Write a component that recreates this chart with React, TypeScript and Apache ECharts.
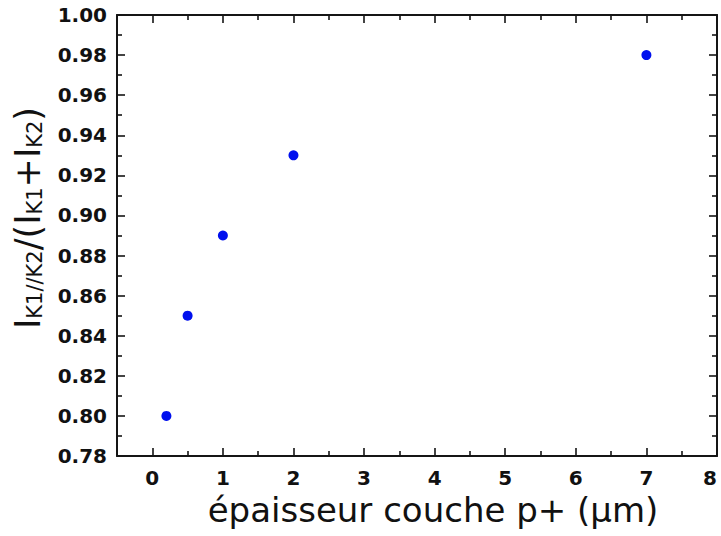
import React, { useEffect, useRef } from "react";
import * as echarts from "echarts";

const thickness = [0.2, 0.5, 1, 2, 7];
const ratio = [0.8, 0.85, 0.89, 0.93, 0.98];
const xMajorTicks = [0, 1, 2, 3, 4, 5, 6, 7, 8];
const xMinorTicks = [0.5, 1.5, 2.5, 3.5, 4.5, 5.5, 6.5, 7.5];
const xTitle = "épaisseur couche p+ (µm)";

const AXIS_COLOR = "#151515";
const LABEL_FONT = "DejaVu Sans";

export default function App() {
  const ref = useRef<HTMLDivElement>(null);
  useEffect(() => {
    if (!ref.current) return;
    const chart = echarts.init(ref.current, null, { renderer: "svg" });
    const lineStyle = { color: AXIS_COLOR, width: 2 };
    const tickStyle = { color: AXIS_COLOR, width: 1.6 };
    const baseX = {
      type: "value" as const,
      min: -0.5,
      max: 8,
      interval: 0.5,
      splitLine: { show: false },
    };
    const baseY = {
      type: "value" as const,
      min: 0.78,
      max: 1.0,
      interval: 0.02,
      splitLine: { show: false },
      axisTick: { show: true, inside: true, length: 8, lineStyle: tickStyle },
      minorTick: { show: true, splitNumber: 2, length: 5, lineStyle: tickStyle },
    };
    chart.setOption({
      animation: false,
      backgroundColor: "#ffffff",
      grid: { left: 117, right: 4, top: 15, bottom: 80, containLabel: false, outerBoundsMode: "none" },
      xAxis: [
        {
          ...baseX,
          position: "bottom",
          axisLine: { show: true, onZero: false, lineStyle },
          axisTick: { show: true, inside: true, length: 8, lineStyle: tickStyle, customValues: xMajorTicks },
          axisLabel: {
            show: true,
            customValues: xMajorTicks,
            margin: 12,
            alignMaxLabel: "right",
            fontFamily: LABEL_FONT,
            fontWeight: "bold",
            fontSize: 20,
            color: "#111111",
            formatter: (v: number) => String(v),
          },
        },
        {
          ...baseX,
          position: "bottom",
          axisLine: { show: false, onZero: false },
          axisTick: { show: true, inside: true, length: 5, lineStyle: tickStyle, customValues: xMinorTicks },
          axisLabel: { show: false },
        },
        {
          ...baseX,
          position: "top",
          axisLine: { show: true, onZero: false, lineStyle },
          axisTick: { show: true, inside: true, length: 8, lineStyle: tickStyle, customValues: xMajorTicks },
          axisLabel: { show: false },
        },
        {
          ...baseX,
          position: "top",
          axisLine: { show: false, onZero: false },
          axisTick: { show: true, inside: true, length: 5, lineStyle: tickStyle, customValues: xMinorTicks },
          axisLabel: { show: false },
        },
      ],
      yAxis: [
        {
          ...baseY,
          position: "left",
          axisLine: { show: true, onZero: false, lineStyle },
          axisLabel: {
            show: true,
            margin: 10,
            fontFamily: LABEL_FONT,
            fontWeight: "bold",
            fontSize: 20,
            color: "#111111",
            formatter: (v: number) => v.toFixed(2),
          },
        },
        {
          ...baseY,
          position: "right",
          axisLine: { show: true, onZero: false, lineStyle },
          axisLabel: { show: false },
        },
      ],
      graphic: [
        {
          type: "text",
          x: 433,
          y: 510,
          style: {
            text: xTitle,
            fontFamily: "DejaVu Sans",
            fontSize: 34,
            fill: "#111111",
            align: "center",
            verticalAlign: "middle",
          },
        },
        {
          type: "text",
          x: 28,
          y: 218,
          rotation: Math.PI / 2,
          style: {
            text: "{b|I}{s|K1//K2}{b|/(I}{s|K1}{b|+I}{s|K2}{b|)}",
            fill: "#111111",
            align: "center",
            verticalAlign: "middle",
            rich: {
              b: { fontFamily: "DejaVu Sans", fontSize: 35, lineHeight: 35, verticalAlign: "bottom", fill: "#111111" },
              s: { fontFamily: "DejaVu Sans", fontSize: 21, lineHeight: 21, verticalAlign: "bottom", fill: "#111111" },
            },
          },
        },
      ],
      series: [
        {
          type: "scatter",
          xAxisIndex: 0,
          yAxisIndex: 0,
          symbol: "circle",
          symbolSize: 10,
          itemStyle: { color: "#0010ee", opacity: 1 },
          data: thickness.map((x, i) => [x, ratio[i]]),
        },
      ],
    });
    return () => chart.dispose();
  }, []);
  return (
    <div
      ref={ref}
      style={{ position: "fixed", left: 0, top: 0, width: 721, height: 536, background: "#fff" }}
    />
  );
}
